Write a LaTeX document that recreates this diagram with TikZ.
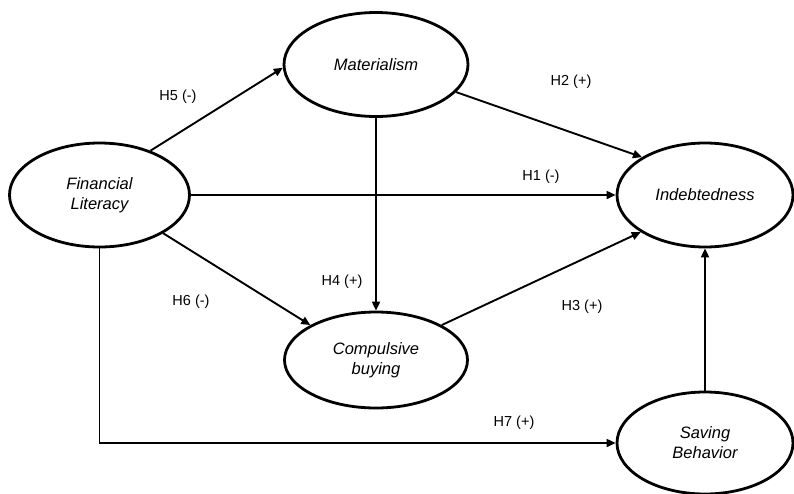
\documentclass[tikz,border=0pt]{standalone}
\usepackage{fontspec}
\setmainfont{Liberation Sans}
\usetikzlibrary{arrows.meta,shapes.geometric}
\begin{document}
\begin{tikzpicture}[x=1pt,y=-1pt,
  latent/.style={ellipse,draw,line width=2.8pt,inner sep=0pt,minimum width=180pt,minimum height=104pt,align=center,font=\fontsize{16.5}{20}\selectfont\itshape},
  path/.style={line width=1.9pt,-{Triangle[length=9pt,width=8pt]}},
  hyp/.style={font=\fontsize{14.5}{16}\selectfont,inner sep=0pt}]
\useasboundingbox (0,0) rectangle (794,493);
\node[latent] (fl) at (99.5,195) {Financial\\Literacy};
\node[latent,minimum width=184pt] (mat) at (376,64.5) {Materialism};
\node[latent,minimum width=176pt] (ind) at (705,195) {Indebtedness};
\node[latent,minimum width=183pt,minimum height=96pt] (cb) at (376,360) {Compulsive\\buying};
\node[latent,minimum width=176pt,minimum height=102pt] (sav) at (705,443) {Saving\\Behavior};

\draw[path] (fl.41) -- (mat.182);
\draw[path] (mat.-19) -- (ind.149);
\draw[path] (fl.east) -- (ind.west);
\draw[path] (mat.south) -- (cb.north);
\draw[path] (fl.-31) -- (cb.152);
\draw[path] (cb.28) -- (ind.210);
\draw[path] (sav.north) -- (ind.south);
\draw[path] (fl.south) |- (sav.west);

\node[hyp] (h5) at (178,97) {H5 (-)};
\node[hyp] (h2) at (571,82) {H2 (+)};
\node[hyp] (h1) at (541,177) {H1 (-)};
\node[hyp] (h4) at (342,282) {H4 (+)};
\node[hyp] (h6) at (191,302) {H6 (-)};
\node[hyp] (h3) at (582,307) {H3 (+)};
\node[hyp] (h7) at (514,423) {H7 (+)};
\end{tikzpicture}
\end{document}
